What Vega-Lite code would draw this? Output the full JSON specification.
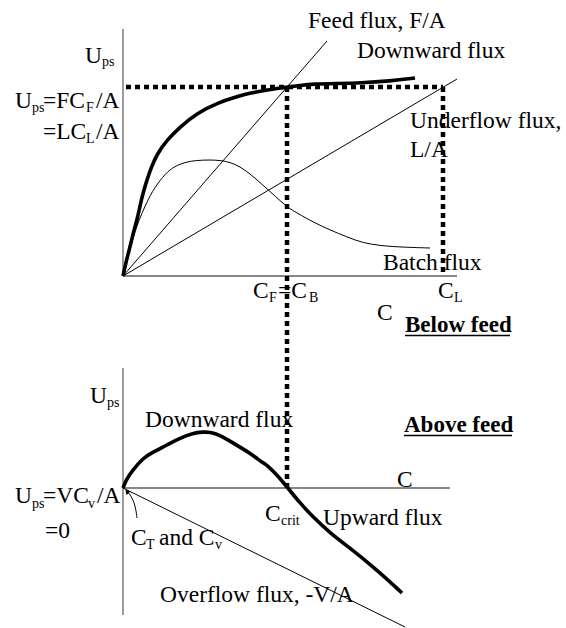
{
  "$schema": "https://vega.github.io/schema/vega-lite/v6.json",
  "width": 566,
  "height": 628,
  "padding": 0,
  "autosize": {"type": "fit", "contains": "padding"},
  "config": {"view": {"stroke": null}},
  "datasets": {
    "axes_y": [
      {"x": 0, "y": 24.7, "x2": 0, "y2": 0},
      {"x": 0, "y": -9.2, "x2": 0, "y2": -33.9}
    ],
    "axes_x": [
      {"x": 0, "y": 0, "x2": 33.4, "y2": 0},
      {"x": 0, "y": -21.2, "x2": 32.7, "y2": -21.2}
    ],
    "flux_lines": [
      {"name": "Feed flux", "x": 0, "y": 0, "x2": 20.4, "y2": 23.5},
      {"name": "Underflow flux", "x": 0, "y": 0, "x2": 33.4, "y2": 19.7},
      {"name": "Overflow flux", "x": 0, "y": -21.2, "x2": 28.2, "y2": -35.1}
    ],
    "operating_lines": [
      {"name": "Ups level", "x": 0.3, "y": 18.9, "x2": 32.0, "y2": 18.9},
      {"name": "CF = CB", "x": 16.4, "y": 18.9, "x2": 16.4, "y2": -21.2},
      {"name": "CL", "x": 32.0, "y": 18.9, "x2": 32.0, "y2": 0}
    ],
    "underlines": [
      {"x": 28.2, "y": -5.95, "x2": 38.7, "y2": -5.95},
      {"x": 28.1, "y": -15.95, "x2": 38.9, "y2": -15.95}
    ],
    "downward_flux": [
      {"panel": "below", "i": 0, "x": 0, "y": 0},
      {"panel": "below", "i": 1, "x": 0.3, "y": 1.4},
      {"panel": "below", "i": 2, "x": 0.7, "y": 2.9},
      {"panel": "below", "i": 3, "x": 1.0, "y": 4.2},
      {"panel": "below", "i": 4, "x": 1.4, "y": 5.6},
      {"panel": "below", "i": 5, "x": 1.7, "y": 7.0},
      {"panel": "below", "i": 6, "x": 2.0, "y": 8.3},
      {"panel": "below", "i": 7, "x": 2.4, "y": 9.6},
      {"panel": "below", "i": 8, "x": 2.8, "y": 10.8},
      {"panel": "below", "i": 9, "x": 3.4, "y": 12.2},
      {"panel": "below", "i": 10, "x": 4.4, "y": 13.6},
      {"panel": "below", "i": 11, "x": 5.7, "y": 14.9},
      {"panel": "below", "i": 12, "x": 7.4, "y": 16.3},
      {"panel": "below", "i": 13, "x": 9.7, "y": 17.4},
      {"panel": "below", "i": 14, "x": 11.0, "y": 17.8},
      {"panel": "below", "i": 15, "x": 12.7, "y": 18.3},
      {"panel": "below", "i": 16, "x": 14.4, "y": 18.6},
      {"panel": "below", "i": 17, "x": 16.4, "y": 18.9},
      {"panel": "below", "i": 18, "x": 17.7, "y": 19.05},
      {"panel": "below", "i": 19, "x": 19.0, "y": 19.2},
      {"panel": "below", "i": 20, "x": 21.4, "y": 19.25},
      {"panel": "below", "i": 21, "x": 23.7, "y": 19.3},
      {"panel": "below", "i": 22, "x": 26.7, "y": 19.5},
      {"panel": "below", "i": 23, "x": 29.2, "y": 19.8},
      {"panel": "above", "i": 0, "x": 0, "y": -21.2},
      {"panel": "above", "i": 1, "x": 0.4, "y": -20.2},
      {"panel": "above", "i": 2, "x": 1.0, "y": -19.4},
      {"panel": "above", "i": 3, "x": 2.0, "y": -18.2},
      {"panel": "above", "i": 4, "x": 3.0, "y": -17.6},
      {"panel": "above", "i": 5, "x": 4.4, "y": -16.9},
      {"panel": "above", "i": 6, "x": 5.7, "y": -16.2},
      {"panel": "above", "i": 7, "x": 7.0, "y": -15.7},
      {"panel": "above", "i": 8, "x": 8.0, "y": -15.6},
      {"panel": "above", "i": 9, "x": 8.7, "y": -15.6},
      {"panel": "above", "i": 10, "x": 9.7, "y": -15.9},
      {"panel": "above", "i": 11, "x": 11.0, "y": -16.7},
      {"panel": "above", "i": 12, "x": 12.7, "y": -17.7},
      {"panel": "above", "i": 13, "x": 14.0, "y": -18.7},
      {"panel": "above", "i": 14, "x": 14.4, "y": -18.9},
      {"panel": "above", "i": 15, "x": 15.4, "y": -19.9},
      {"panel": "above", "i": 16, "x": 16.4, "y": -21.1},
      {"panel": "above", "i": 17, "x": 17.7, "y": -22.7},
      {"panel": "above", "i": 18, "x": 19.0, "y": -24.1},
      {"panel": "above", "i": 19, "x": 20.7, "y": -25.7},
      {"panel": "above", "i": 20, "x": 22.7, "y": -27.2},
      {"panel": "above", "i": 21, "x": 25.4, "y": -29.4},
      {"panel": "above", "i": 22, "x": 27.9, "y": -31.7}
    ],
    "batch_flux": [
      {"i": 0, "x": 0, "y": 0},
      {"i": 1, "x": 0.4, "y": 1.4},
      {"i": 2, "x": 0.8, "y": 3.1},
      {"i": 3, "x": 1.3, "y": 4.8},
      {"i": 4, "x": 1.9, "y": 6.3},
      {"i": 5, "x": 2.7, "y": 8.1},
      {"i": 6, "x": 3.7, "y": 9.6},
      {"i": 7, "x": 4.7, "y": 10.7},
      {"i": 8, "x": 5.7, "y": 11.2},
      {"i": 9, "x": 6.7, "y": 11.5},
      {"i": 10, "x": 8.0, "y": 11.6},
      {"i": 11, "x": 9.2, "y": 11.6},
      {"i": 12, "x": 10.2, "y": 11.5},
      {"i": 13, "x": 11.2, "y": 11.2},
      {"i": 14, "x": 12.2, "y": 10.6},
      {"i": 15, "x": 13.2, "y": 9.8},
      {"i": 16, "x": 14.2, "y": 8.9},
      {"i": 17, "x": 15.2, "y": 8.0},
      {"i": 18, "x": 16.4, "y": 6.9},
      {"i": 19, "x": 17.4, "y": 6.3},
      {"i": 20, "x": 19.0, "y": 5.4},
      {"i": 21, "x": 20.7, "y": 4.6},
      {"i": 22, "x": 22.4, "y": 3.9},
      {"i": 23, "x": 24.0, "y": 3.3},
      {"i": 24, "x": 25.7, "y": 3.05},
      {"i": 25, "x": 27.4, "y": 2.9},
      {"i": 26, "x": 30.7, "y": 2.8}
    ],
    "pointer": [
      {"i": 0, "x": 1.4, "y": -24.2},
      {"i": 1, "x": 1.3, "y": -23.4},
      {"i": 2, "x": 1.1, "y": -22.6},
      {"i": 3, "x": 0.8, "y": -22.0},
      {"i": 4, "x": 0.4, "y": -21.5}
    ],
    "pointer_tip": [
      {"x": 0.4, "y": -21.55}
    ],
    "labels": [
      {"text": "U", "x": -3.8, "y": 21.3},
      {"text": "U", "x": -10.8, "y": 16.8},
      {"text": "=FC", "x": -8.0, "y": 16.8},
      {"text": "/A", "x": -2.7, "y": 16.8},
      {"text": "=LC", "x": -8.0, "y": 13.7},
      {"text": "/A", "x": -2.7, "y": 13.7},
      {"text": "Feed flux, F/A", "x": 18.5, "y": 24.8},
      {"text": "Downward flux", "x": 23.4, "y": 21.8},
      {"text": "Underflow flux,", "x": 28.7, "y": 14.8},
      {"text": "L/A", "x": 28.7, "y": 11.9},
      {"text": "Batch flux", "x": 26.0, "y": 0.6},
      {"text": "C", "x": 13.0, "y": -2.2},
      {"text": "=C", "x": 15.5, "y": -2.2},
      {"text": "C", "x": 31.5, "y": -2.2},
      {"text": "C", "x": 25.4, "y": -4.4},
      {"text": "U", "x": -3.3, "y": -12.7},
      {"text": "Downward flux", "x": 2.2, "y": -15.1},
      {"text": "C", "x": 27.4, "y": -21.1},
      {"text": "U", "x": -10.8, "y": -22.7},
      {"text": "=VC", "x": -8.0, "y": -22.7},
      {"text": "/A", "x": -2.6, "y": -22.7},
      {"text": "=0", "x": -7.8, "y": -26.2},
      {"text": "C", "x": 14.2, "y": -24.5},
      {"text": "Upward flux", "x": 20.0, "y": -24.9},
      {"text": "C", "x": 0.8, "y": -26.9},
      {"text": "and C", "x": 3.6, "y": -26.9},
      {"text": "Overflow flux, -V/A", "x": 3.7, "y": -32.6}
    ],
    "subscripts": [
      {"text": "ps", "x": -2.1, "y": 21.0},
      {"text": "ps", "x": -9.1, "y": 16.4},
      {"text": "F", "x": -3.7, "y": 16.4},
      {"text": "L", "x": -3.7, "y": 13.3},
      {"text": "F", "x": 14.6, "y": -2.6},
      {"text": "B", "x": 18.6, "y": -2.6},
      {"text": "L", "x": 33.1, "y": -2.6},
      {"text": "ps", "x": -1.6, "y": -13.1},
      {"text": "ps", "x": -9.1, "y": -23.2},
      {"text": "v", "x": -3.5, "y": -23.2},
      {"text": "crit", "x": 15.8, "y": -24.9},
      {"text": "T", "x": 2.3, "y": -27.3},
      {"text": "v", "x": 9.2, "y": -27.3}
    ],
    "headings": [
      {"text": "Below feed", "x": 28.2, "y": -5.6},
      {"text": "Above feed", "x": 28.1, "y": -15.6}
    ]
  },
  "encoding": {
    "x": {"field": "x", "type": "quantitative", "axis": null,
          "scale": {"domain": [-12.3, 44.3], "nice": false, "zero": false}},
    "y": {"field": "y", "type": "quantitative", "axis": null,
          "scale": {"domain": [-35.2, 27.6], "nice": false, "zero": false}}
  },
  "layer": [
    {
      "data": {"name": "axes_y"},
      "mark": {"type": "rule", "color": "#7a7a7a", "strokeWidth": 1.5},
      "encoding": {"x2": {"field": "x2"}, "y2": {"field": "y2"}}
    },
    {
      "data": {"name": "axes_x"},
      "mark": {"type": "rule", "color": "#111111", "strokeWidth": 1.2},
      "encoding": {"x2": {"field": "x2"}, "y2": {"field": "y2"}}
    },
    {
      "data": {"name": "flux_lines"},
      "mark": {"type": "rule", "color": "#000000", "strokeWidth": 1},
      "encoding": {"x2": {"field": "x2"}, "y2": {"field": "y2"}}
    },
    {
      "data": {"name": "batch_flux"},
      "mark": {"type": "line", "color": "#000000", "strokeWidth": 1, "interpolate": "basis"},
      "encoding": {"order": {"field": "i", "type": "quantitative"}}
    },
    {
      "data": {"name": "downward_flux"},
      "mark": {"type": "line", "color": "#000000", "strokeWidth": 3.6, "interpolate": "basis", "strokeCap": "butt"},
      "encoding": {
        "detail": {"field": "panel", "type": "nominal"},
        "order": {"field": "i", "type": "quantitative"}
      }
    },
    {
      "data": {"name": "operating_lines"},
      "mark": {"type": "rule", "color": "#000000", "strokeWidth": 4.5, "strokeDash": [5, 4], "strokeCap": "butt"},
      "encoding": {"x2": {"field": "x2"}, "y2": {"field": "y2"}}
    },
    {
      "data": {"name": "pointer"},
      "mark": {"type": "line", "color": "#000000", "strokeWidth": 1, "interpolate": "basis"},
      "encoding": {"order": {"field": "i", "type": "quantitative"}}
    },
    {
      "data": {"name": "pointer_tip"},
      "mark": {"type": "point", "shape": "triangle-up", "filled": true, "color": "#000000", "size": 30, "angle": -40, "opacity": 1}
    },
    {
      "data": {"name": "labels"},
      "mark": {"type": "text", "align": "left", "baseline": "alphabetic", "font": "Liberation Serif", "fontSize": 23.5, "color": "#000000"},
      "encoding": {"text": {"field": "text"}}
    },
    {
      "data": {"name": "subscripts"},
      "mark": {"type": "text", "align": "left", "baseline": "alphabetic", "font": "Liberation Serif", "fontSize": 14, "color": "#000000"},
      "encoding": {"text": {"field": "text"}}
    },
    {
      "data": {"name": "headings"},
      "mark": {"type": "text", "align": "left", "baseline": "alphabetic", "font": "Liberation Serif", "fontSize": 23, "fontWeight": "bold", "color": "#000000"},
      "encoding": {"text": {"field": "text"}}
    },
    {
      "data": {"name": "underlines"},
      "mark": {"type": "rule", "color": "#000000", "strokeWidth": 1.5},
      "encoding": {"x2": {"field": "x2"}, "y2": {"field": "y2"}}
    }
  ]
}
